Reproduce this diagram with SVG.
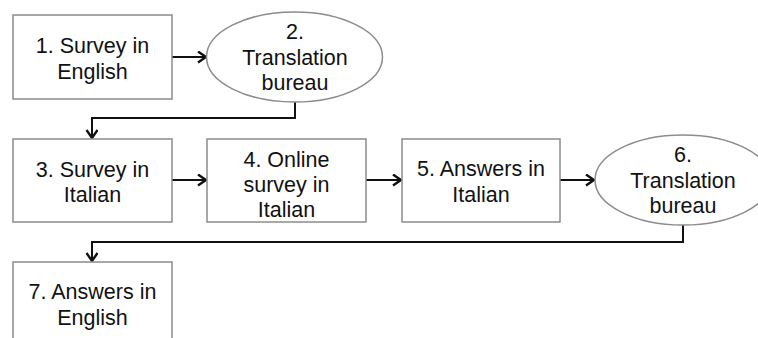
<svg xmlns="http://www.w3.org/2000/svg" width="758" height="338" viewBox="0 0 758 338">
  <style>
    .node { fill: #ffffff; stroke: #8c8c8c; stroke-width: 1.5; }
    .label { font-family: "Liberation Sans", Arial, Helvetica, sans-serif; font-size: 21.5px; fill: #111111; text-anchor: middle; }
    .edge { fill: none; stroke: #111111; stroke-width: 2; }
  </style>
  <defs>
    <marker id="arrow" markerUnits="userSpaceOnUse" markerWidth="14" markerHeight="14" refX="10" refY="6" orient="auto">
      <path d="M2,0.5 L10,6 L2,11.5" fill="none" stroke="#111111" stroke-width="2.4"/>
    </marker>
  </defs>
  <rect width="758" height="338" fill="#ffffff"/>

  <g id="connectors">
    <path class="edge" d="M172,57 H206" marker-end="url(#arrow)"/>
    <path class="edge" d="M295,102 V118 H92 V138" marker-end="url(#arrow)"/>
    <path class="edge" d="M172,180 H206" marker-end="url(#arrow)"/>
    <path class="edge" d="M366,180 H401" marker-end="url(#arrow)"/>
    <path class="edge" d="M560,180 H594" marker-end="url(#arrow)"/>
    <path class="edge" d="M683,225 V242 H92 V261" marker-end="url(#arrow)"/>
  </g>

  <g id="n1">
    <rect class="node" x="13" y="15" width="159" height="84"/>
    <text class="label" x="92.5" y="53">1. Survey in</text>
    <text class="label" x="92.5" y="79">English</text>
  </g>

  <g id="n2">
    <ellipse class="node" cx="294.5" cy="57" rx="88" ry="45"/>
    <text class="label" x="295" y="39">2.</text>
    <text class="label" x="295" y="65">Translation</text>
    <text class="label" x="295" y="90">bureau</text>
  </g>

  <g id="n3">
    <rect class="node" x="13" y="139" width="159" height="83"/>
    <text class="label" x="92.5" y="177">3. Survey in</text>
    <text class="label" x="92.5" y="202">Italian</text>
  </g>

  <g id="n4">
    <rect class="node" x="207" y="139" width="159" height="83"/>
    <text class="label" x="286.5" y="167">4. Online</text>
    <text class="label" x="286.5" y="192">survey in</text>
    <text class="label" x="286.5" y="217">Italian</text>
  </g>

  <g id="n5">
    <rect class="node" x="402" y="139" width="158" height="83"/>
    <text class="label" x="481" y="176">5. Answers in</text>
    <text class="label" x="481" y="202">Italian</text>
  </g>

  <g id="n6">
    <ellipse class="node" cx="683" cy="180" rx="88" ry="45"/>
    <text class="label" x="683" y="162">6.</text>
    <text class="label" x="683" y="188">Translation</text>
    <text class="label" x="683" y="213">bureau</text>
  </g>

  <g id="n7">
    <rect class="node" x="13" y="262" width="159" height="84"/>
    <text class="label" x="92.5" y="299">7. Answers in</text>
    <text class="label" x="92.5" y="325">English</text>
  </g>
</svg>
